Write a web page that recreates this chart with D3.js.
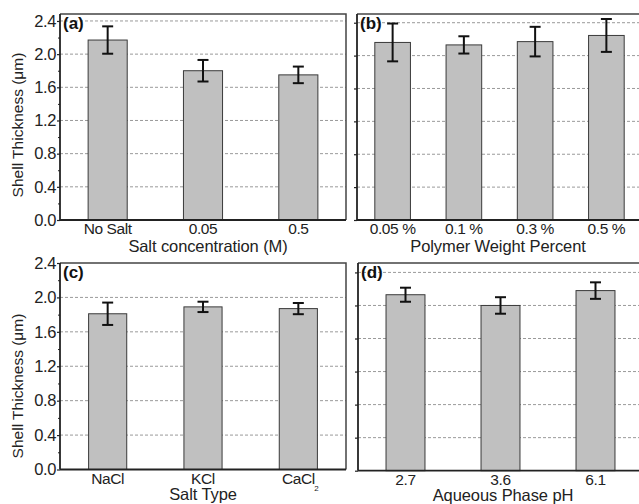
<!DOCTYPE html>
<html>
<head>
<meta charset="utf-8">
<script src="https://cdn.jsdelivr.net/npm/d3@7"></script>
<style>
  body { margin: 0; background: #fff; }
  svg { display: block; font-family: "Liberation Sans", Arial, sans-serif; }
  svg text { font-family: "Liberation Sans", Arial, sans-serif; }
  .grid line { stroke: #9a9a9a; stroke-dasharray: 3,2; stroke-width: 1; }
</style>
</head>
<body>
<div id="chart"></div>
<script>
// (a) salt concentration
var saltConc = ["No Salt", "0.05", "0.5"];
var saltConcMean = [2.17, 1.80, 1.75];
var saltConcErr = [0.165, 0.13, 0.10];

// (b) polymer weight percent
var polymerPct = ["0.05 %", "0.1 %", "0.3 %", "0.5 %"];
var polymerMean = [2.16, 2.13, 2.17, 2.245];
var polymerErr = [0.23, 0.105, 0.18, 0.20];

// (c) salt type
var saltType = ["NaCl", "KCl", "CaCl"];
var saltTypeMean = [1.81, 1.89, 1.87];
var saltTypeErr = [0.13, 0.06, 0.065];

// (d) aqueous phase pH
var phValues = ["2.7", "3.6", "6.1"];
var phMean = [2.13, 2.00, 2.18];
var phErr = [0.085, 0.10, 0.10];

var yTicks = [0, 0.4, 0.8, 1.2, 1.6, 2.0, 2.4];
var yMinorTicks = [0.2, 0.6, 1.0, 1.4, 1.8, 2.2];

function zip(cats, means, errs) {
  return cats.map(function(c, i) {
    return { cat: c, mean: means[i], err: errs[i] };
  });
}

var panels = [
  { tag: "(a)", data: zip(saltConc, saltConcMean, saltConcErr), title: "Salt concentration (M)",
    x0: 60, x1: 346, top: 14, bottom: 220, yMax: 2.484, barPad: 0.59, labels: true, yLabelY: 125, titleX: 208 },
  { tag: "(b)", data: zip(polymerPct, polymerMean, polymerErr), title: "Polymer Weight Percent",
    x0: 357, x1: 642, top: 14, bottom: 220, yMax: 2.506, barPad: 0.5, labels: false, titleX: 498 },
  { tag: "(c)", data: zip(saltType, saltTypeMean, saltTypeErr), title: "Salt Type",
    x0: 60, x1: 346, top: 263, bottom: 469.5, yMax: 2.4, barPad: 0.6, labels: true, yLabelY: 386, titleX: 203 },
  { tag: "(d)", data: zip(phValues, phMean, phErr), title: "Aqueous Phase pH",
    x0: 358, x1: 643, top: 263, bottom: 470.7, yMax: 2.514, barPad: 0.59, labels: false, titleX: 503 }
];

var svg = d3.select("#chart").append("svg")
  .attr("width", 639)
  .attr("height", 504);

panels.forEach(function(p) {
  var g = svg.append("g");

  var x = d3.scaleBand()
    .domain(p.data.map(function(d) { return d.cat; }))
    .range([p.x0, p.x1])
    .paddingInner(p.barPad)
    .paddingOuter(p.barPad / 2);

  var y = d3.scaleLinear()
    .domain([0, p.yMax])
    .range([p.bottom, p.top]);

  // dashed grid
  g.append("g")
    .attr("class", "grid")
    .selectAll("line")
    .data(yTicks.filter(function(t) { return t > 0 && t < p.yMax - 0.01; }))
    .enter().append("line")
    .attr("x1", p.x0).attr("x2", p.x1)
    .attr("y1", function(d) { return y(d); })
    .attr("y2", function(d) { return y(d); });

  // bars
  g.selectAll("rect.bar")
    .data(p.data)
    .enter().append("rect")
    .attr("class", "bar")
    .attr("x", function(d) { return x(d.cat); })
    .attr("y", function(d) { return y(d.mean); })
    .attr("width", x.bandwidth())
    .attr("height", function(d) { return p.bottom - y(d.mean); })
    .attr("fill", "#c0c0c0")
    .attr("stroke", "#3a3a3a")
    .attr("stroke-width", 1);

  // error bars
  var eb = g.selectAll("g.err")
    .data(p.data)
    .enter().append("g")
    .attr("class", "err")
    .attr("stroke", "#111")
    .attr("stroke-width", 2);
  var cx = function(d) { return x(d.cat) + x.bandwidth() / 2; };
  eb.append("line")
    .attr("x1", cx).attr("x2", cx)
    .attr("y1", function(d) { return y(d.mean + d.err); })
    .attr("y2", function(d) { return y(d.mean - d.err); });
  [1, -1].forEach(function(s) {
    eb.append("line")
      .attr("x1", function(d) { return cx(d) - 5.5; })
      .attr("x2", function(d) { return cx(d) + 5.5; })
      .attr("y1", function(d) { return y(d.mean + s * d.err); })
      .attr("y2", function(d) { return y(d.mean + s * d.err); });
  });

  // frame (top and right)
  g.append("path")
    .attr("d", "M" + p.x0 + "," + p.top + "H" + p.x1 + "V" + p.bottom)
    .attr("fill", "none")
    .attr("stroke", "#444")
    .attr("stroke-width", 1.5);

  // y axis
  var yAxis = d3.axisLeft(y)
    .tickValues(yTicks)
    .tickSize(3)
    .tickPadding(1)
    .tickFormat(p.labels ? d3.format(".1f") : "");
  var ya = g.append("g")
    .attr("transform", "translate(" + p.x0 + ",0)")
    .call(yAxis);
  ya.attr("font-family", null);
  ya.select(".domain")
    .attr("d", "M0," + p.top + "V" + p.bottom)
    .attr("stroke", "#222")
    .attr("stroke-width", 1.8);
  ya.selectAll(".tick line").attr("stroke", "#222").attr("stroke-width", 1.2);
  ya.selectAll(".tick text")
    .attr("font-size", 16.5)
    .attr("letter-spacing", -0.4)
    .attr("fill", "#222");

  if (p.labels) {
    g.append("g")
      .attr("transform", "translate(" + p.x0 + ",0)")
      .call(d3.axisLeft(y).tickValues(yMinorTicks).tickSize(2).tickFormat(""))
      .call(function(a) {
        a.select(".domain").remove();
        a.selectAll(".tick line").attr("stroke", "#222");
      });
  }

  // x axis
  var xa = g.append("g")
    .attr("transform", "translate(0," + p.bottom + ")")
    .call(d3.axisBottom(x).tickSize(0).tickPadding(3));
  xa.attr("font-family", null);
  xa.select(".domain")
    .attr("d", "M" + p.x0 + ",0H" + p.x1)
    .attr("stroke", "#222")
    .attr("stroke-width", 1.8);
  xa.selectAll(".tick text")
    .attr("font-size", 15.5)
    .attr("letter-spacing", -0.4)
    .attr("fill", "#222");

  // subscript for CaCl2
  if (p.tag === "(c)") {
    g.append("text")
      .attr("x", x("CaCl") + x.bandwidth() / 2 + 16)
      .attr("y", p.bottom + 21)
      .attr("font-size", 8)
      .attr("fill", "#222")
      .text("2");
  }

  // x title
  g.append("text")
    .attr("x", p.titleX)
    .attr("y", p.bottom + (p.bottom > 400 ? 30 : 31.5))
    .attr("text-anchor", "middle")
    .attr("font-size", 16.5)
    .attr("letter-spacing", -0.1)
    .attr("fill", "#222")
    .text(p.title);

  // y title
  if (p.labels) {
    g.append("text")
      .attr("transform", "translate(23," + p.yLabelY + ") rotate(-90)")
      .attr("text-anchor", "middle")
      .attr("font-size", 15.5)
      .attr("fill", "#222")
      .text("Shell Thickness (\u03bcm)");
  }

  // panel tag
  g.append("text")
    .attr("x", p.x0 + 3)
    .attr("y", p.top + 15)
    .attr("font-size", 17)
    .attr("font-weight", "bold")
    .attr("fill", "#111")
    .text(p.tag);
});
</script>
</body>
</html>
